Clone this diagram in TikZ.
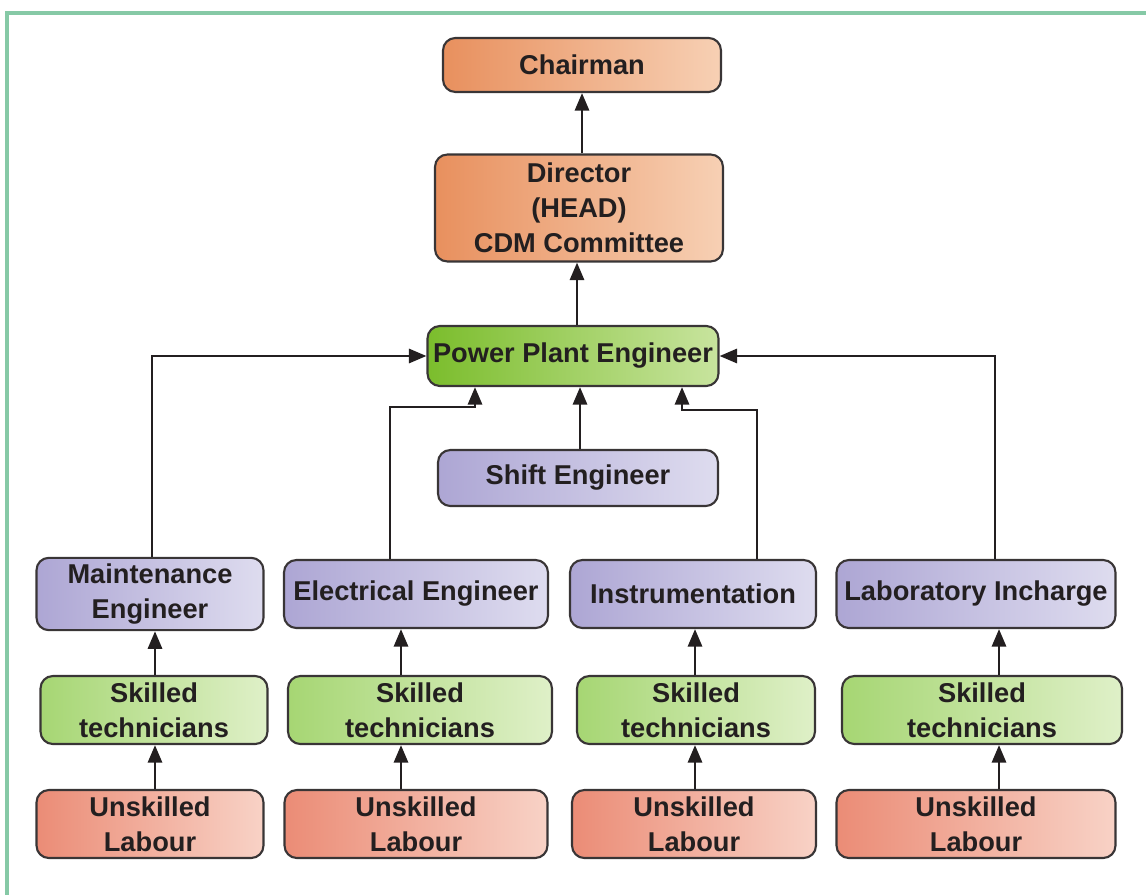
\documentclass[tikz,border=0pt]{standalone}
\usepackage{fontspec}
\setmainfont{Liberation Sans}
\usetikzlibrary{arrows.meta}

\definecolor{inkc}{HTML}{231F20}
\definecolor{framec}{HTML}{86C9A6}
\definecolor{orgL}{HTML}{E8905E}
\definecolor{orgR}{HTML}{F7D0B4}
\definecolor{purL}{HTML}{ADA6D4}
\definecolor{purR}{HTML}{DEDCEF}
\definecolor{ppeL}{HTML}{7BBD2C}
\definecolor{ppeR}{HTML}{C8E49E}
\definecolor{sklL}{HTML}{A6D673}
\definecolor{sklR}{HTML}{DFF0C8}
\definecolor{labL}{HTML}{EB8C76}
\definecolor{labR}{HTML}{F8D2C6}

\tikzset{
  box/.style={draw=inkc!90, line width=1.2pt, rounded corners=7pt,
    align=center, text=inkc, inner xsep=2pt,
    font=\bfseries\fontsize{15.5}{20}\selectfont},
  orgbox/.style={box, left color=orgL, right color=orgR},
  purbox/.style={box, left color=purL, right color=purR},
  ppebox/.style={box, left color=ppeL, right color=ppeR},
  sklbox/.style={box, left color=sklL, right color=sklR, minimum height=1.36cm},
  labbox/.style={box, left color=labL, right color=labR, minimum height=1.36cm},
  link/.style={draw=inkc, line width=1.6pt, -{Triangle[length=10pt,width=8pt]}}
}

\begin{document}
\begin{tikzpicture}[x=0.02cm, y=-0.02cm]

  \useasboundingbox (0,0) rectangle (1146,895);

  % --- cornice ---
  \draw[framec, line width=2pt] (1160,13) -- (7,13) -- (7,910);

  % --- vertice ---
  \node[orgbox, minimum width=5.56cm, minimum height=1.08cm] (chair) at (582,65) {Chairman};
  \node[orgbox, minimum width=5.76cm, minimum height=2.14cm] (dir) at (579,208)
    {Director\\(HEAD)\\CDM Committee};
  \node[ppebox, minimum width=5.82cm, minimum height=1.2cm] (ppe) at (573,356) {Power Plant Engineer};
  \node[purbox, minimum width=5.6cm, minimum height=1.12cm] (shift) at (578,478) {Shift Engineer};

  % --- ingegneri ---
  \node[purbox, minimum width=4.54cm, minimum height=1.38cm] (maint) at (150,594) {Maintenance\\Engineer};
  \node[purbox, minimum width=5.28cm, minimum height=1.36cm] (elec) at (416,594) {Electrical Engineer};
  \node[purbox, minimum width=4.92cm, minimum height=1.36cm] (instr) at (693,594) {Instrumentation};
  \node[purbox, minimum width=5.58cm, minimum height=1.36cm] (lab) at (976,594) {Laboratory Incharge};

  % --- tecnici ---
  \node[sklbox, minimum width=4.54cm] (sk1) at (154,710) {Skilled\\technicians};
  \node[sklbox, minimum width=5.28cm] (sk2) at (420,710) {Skilled\\technicians};
  \node[sklbox, minimum width=4.76cm] (sk3) at (696,710) {Skilled\\technicians};
  \node[sklbox, minimum width=5.6cm] (sk4) at (982,710) {Skilled\\technicians};

  % --- manovali ---
  \node[labbox, minimum width=4.54cm] (ul1) at (150,824) {Unskilled\\Labour};
  \node[labbox, minimum width=5.26cm] (ul2) at (416,824) {Unskilled\\Labour};
  \node[labbox, minimum width=4.88cm] (ul3) at (694,824) {Unskilled\\Labour};
  \node[labbox, minimum width=5.58cm] (ul4) at (976,824) {Unskilled\\Labour};

  % --- colonne delle frecce ---
  \coordinate (c1) at (155,0);
  \coordinate (c2) at (401,0);
  \coordinate (c3) at (695,0);
  \coordinate (c4) at (999,0);
  \coordinate (ebend) at (475,407);
  \coordinate (ibend) at (682,410);

  % --- frecce verso l'alto ---
  \draw[link] (dir.north -| chair) -- (chair.south);
  \draw[link] (ppe.north -| 577,0) -- (dir.south -| 577,0);
  \draw[link] (shift.north -| 580,0) -- (ppe.south -| 580,0);

  \draw[link] (maint.north -| 152,0) |- (ppe.west);
  \draw[link] (lab.north -| 995,0) |- (ppe.east);
  \draw[link] (elec.north -| 390,0) |- (ebend) -- (ebend |- ppe.south);
  \draw[link] (instr.north -| 757,0) |- (ibend) -- (ibend |- ppe.south);

  % --- tecnici -> ingegneri, manovali -> tecnici ---
  \draw[link] (sk1.north -| c1) -- (maint.south -| c1);
  \draw[link] (sk2.north -| c2) -- (elec.south -| c2);
  \draw[link] (sk3.north -| c3) -- (instr.south -| c3);
  \draw[link] (sk4.north -| c4) -- (lab.south -| c4);
  \draw[link] (ul1.north -| c1) -- (sk1.south -| c1);
  \draw[link] (ul2.north -| c2) -- (sk2.south -| c2);
  \draw[link] (ul3.north -| c3) -- (sk3.south -| c3);
  \draw[link] (ul4.north -| c4) -- (sk4.south -| c4);

\end{tikzpicture}
\end{document}
